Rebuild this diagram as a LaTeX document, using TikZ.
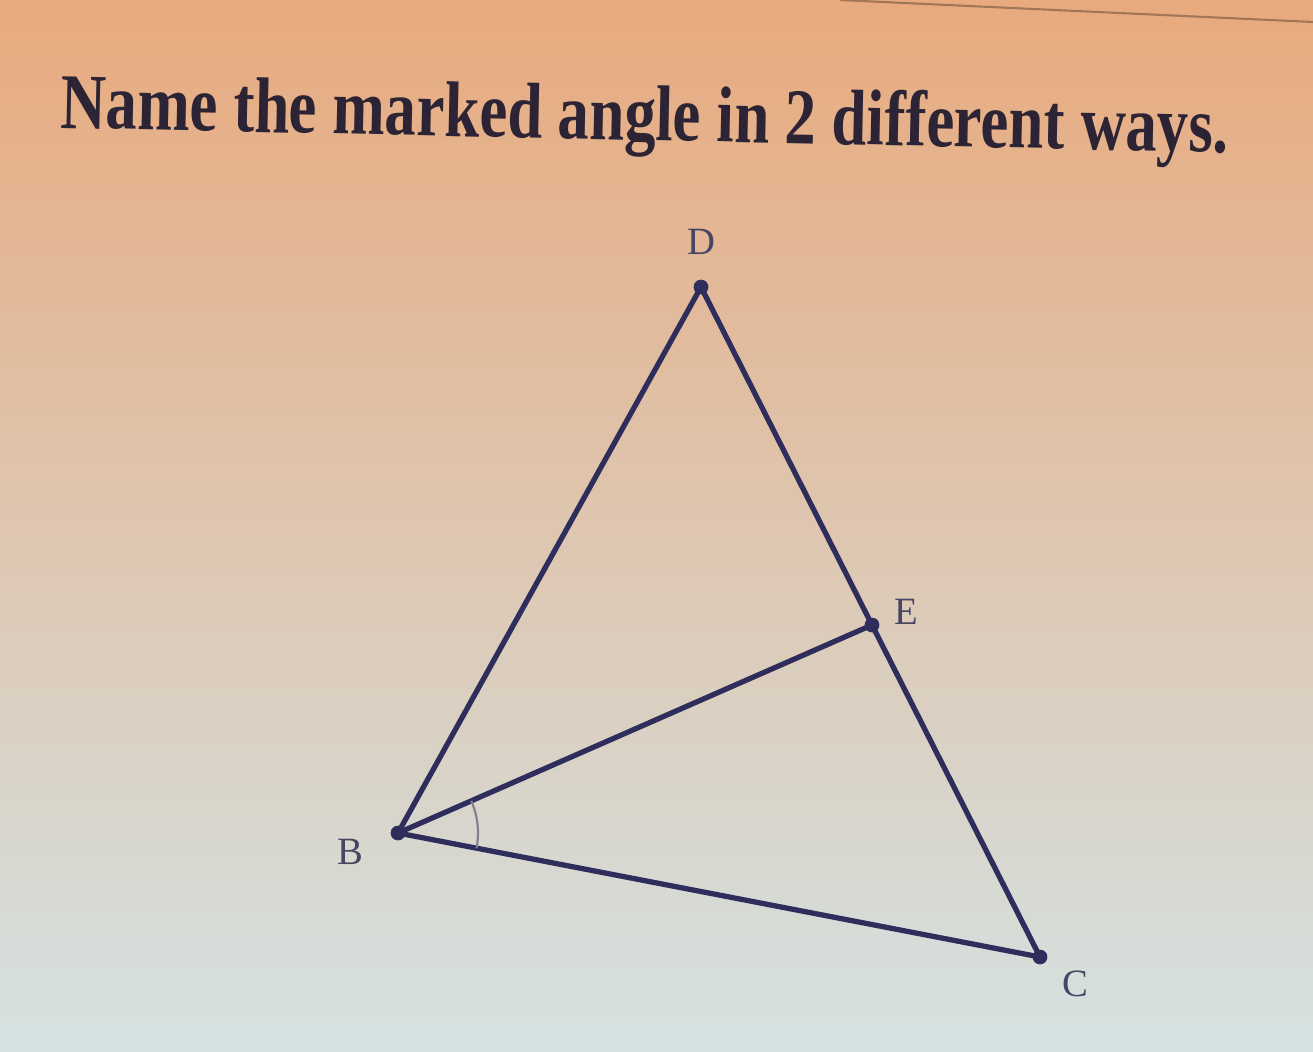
\documentclass[tikz,border=0pt]{standalone}
\usepackage{fontspec}
\setmainfont{Liberation Serif}
\usepackage{tikz}
\usetikzlibrary{positioning,calc,angles}

\definecolor{peach}{RGB}{232,170,126}
\definecolor{cream}{RGB}{240,230,218}
\definecolor{paleblue}{RGB}{212,226,226}
\definecolor{navy}{RGB}{46,45,92}
\definecolor{letter}{RGB}{70,70,98}
\definecolor{ink}{RGB}{44,36,52}

\begin{document}
\begin{tikzpicture}[x=0.02cm,y=-0.02cm,
        vertex/.style={circle,draw=navy,fill=navy,inner sep=0pt,minimum size=0.28cm},
        side/.style={draw=navy,line width=3pt},
        letter/.style={text=letter,inner sep=0pt,font=\fontsize{22}{24}\selectfont}]
        \useasboundingbox (0,0) rectangle (1313,1052);
        \shade[top color=peach,middle color=cream,bottom color=paleblue] (0,0) rectangle (1313,1052);
        \draw[draw=peach!70!black,line width=1.2pt] (840,0) -- (1313,22);

        \node[anchor=base west,inner sep=0pt,rotate=-1.2,text=ink,
            font=\fontsize{45}{50}\selectfont\bfseries] (title) at (60,128)
            {\scalebox{0.795}[1]{Name the marked angle in 2 different ways.}};

        \node[vertex] (D) at (701,287) {};
        \node[vertex] (E) at (872,625) {};
        \node[vertex] (B) at (398,833) {};
        \node[vertex] (C) at (1040,957) {};

        \foreach \x in {D,E,C}{
            \draw[side] (B.center)--(\x.center);
        }
        \draw[side] (D.center)--(C.center);

        \pic[draw=letter!70,line width=1.2pt,angle radius=1.6cm] {angle=C--B--E};

        \node[letter] (labD) [above=0.5cm of D] {D};
        \node[letter] (labE) [right=0.3cm of E,yshift=0.26cm] {E};
        \node[letter] (labB) [left=0.54cm of B,yshift=-0.38cm] {B};
        \node[letter] (labC) [below right=0.16cm and 0.34cm of C] {C};
    \end{tikzpicture}
\end{document}
